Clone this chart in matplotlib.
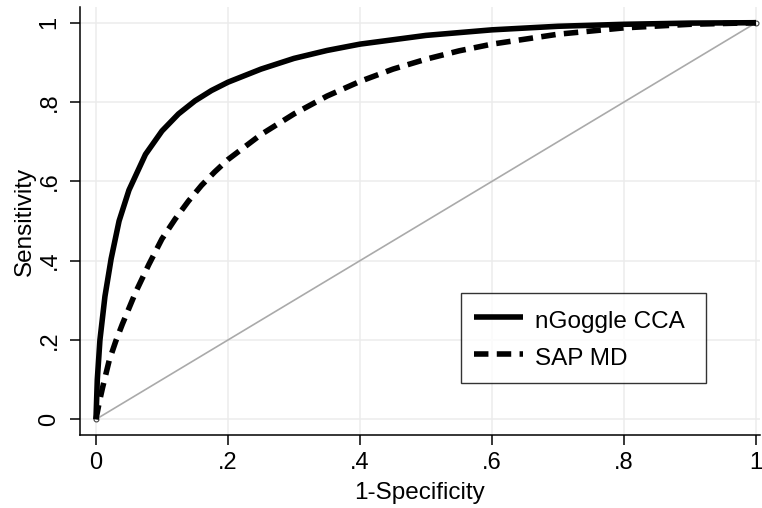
import matplotlib
matplotlib.use("Agg")
import matplotlib.pyplot as plt

plt.rcParams['font.family'] = ['Liberation Sans', 'DejaVu Sans']

# nGoggle CCA ROC curve
ngoggle_fpr = [0, 0.002, 0.006, 0.0136, 0.023, 0.035, 0.05, 0.075, 0.1, 0.125,
               0.15, 0.175, 0.2, 0.25, 0.3, 0.35, 0.4, 0.5, 0.6, 0.7,
               0.8, 0.9, 1.0]
ngoggle_tpr = [0, 0.1, 0.2, 0.31, 0.405, 0.5, 0.578, 0.668, 0.727, 0.77,
               0.803, 0.829, 0.85, 0.883, 0.91, 0.93, 0.946, 0.968, 0.982, 0.991,
               0.996, 0.999, 1.0]

# SAP MD ROC curve
sap_fpr = [0, 0.005, 0.01, 0.02, 0.03, 0.04, 0.06, 0.08, 0.1, 0.12,
           0.14, 0.16, 0.18, 0.2, 0.25, 0.3, 0.35, 0.4, 0.45, 0.5,
           0.55, 0.6, 0.7, 0.8, 0.9, 1.0]
sap_tpr = [0, 0.043, 0.08, 0.148, 0.197, 0.24, 0.32, 0.39, 0.455, 0.505,
           0.55, 0.59, 0.624, 0.655, 0.718, 0.77, 0.815, 0.852, 0.883, 0.908,
           0.929, 0.946, 0.971, 0.987, 0.996, 1.0]

# reference (chance) line
ref_x = [0, 1]
ref_y = [0, 1]

series_labels = ["nGoggle CCA", "SAP MD"]
tick_values = [0, 0.2, 0.4, 0.6, 0.8, 1.0]
tick_labels = ["0", ".2", ".4", ".6", ".8", "1"]
x_title = "1-Specificity"
y_title = "Sensitivity"

fig = plt.figure(figsize=(7.62, 5.08), dpi=100)
ax = fig.add_axes([80 / 762, 1 - 435 / 508, 680 / 762, 428 / 508])

ax.set_xlim(-0.0242, 1.006)
ax.set_ylim(-0.0396, 1.0396)

ax.set_xticks(tick_values)
ax.set_xticklabels(tick_labels)
ax.set_yticks(tick_values)
ax.set_yticklabels(tick_labels, rotation=90, va='center')

ax.grid(True, color='#ececec', linewidth=1.1, zorder=0)
ax.set_axisbelow(True)

ax.plot(ref_x, ref_y, color='#aaaaaa', linewidth=1.2, zorder=2,
        marker='o', markersize=3.5, markerfacecolor='white',
        markeredgecolor='#444444', markeredgewidth=0.8)

l1, = ax.plot(ngoggle_fpr, ngoggle_tpr, color='black', linewidth=4.0,
              solid_capstyle='butt', solid_joinstyle='round', zorder=4,
              label=series_labels[0])
l2, = ax.plot(sap_fpr, sap_tpr, color='black', linewidth=4.0,
              dashes=(2.6, 1.5), dash_capstyle='butt', zorder=3,
              label=series_labels[1])

for side in ['top', 'right']:
    ax.spines[side].set_visible(False)
for side in ['left', 'bottom']:
    ax.spines[side].set_linewidth(1.1)
    ax.spines[side].set_color('black')

ax.tick_params(axis='both', direction='out', length=7, width=1.1,
               color='black', labelsize=17)
ax.tick_params(axis='x', pad=5)
ax.tick_params(axis='y', pad=7)

ax.set_xlabel(x_title, fontsize=17.5, labelpad=6)
ax.set_ylabel(y_title, fontsize=17.5, labelpad=2)

leg = ax.legend(handles=[l1, l2], loc='upper left', mode='expand',
                bbox_to_anchor=(0.56, 0.122, 0.3606, 0.209), borderaxespad=0,
                fontsize=17.5, frameon=True, fancybox=False,
                edgecolor='black', handlelength=2.0, handletextpad=0.5,
                handleheight=1.31, borderpad=0.55, labelspacing=0.4)
leg.get_frame().set_linewidth(1.0)

fig.savefig("out.png", dpi=100, facecolor='white')
